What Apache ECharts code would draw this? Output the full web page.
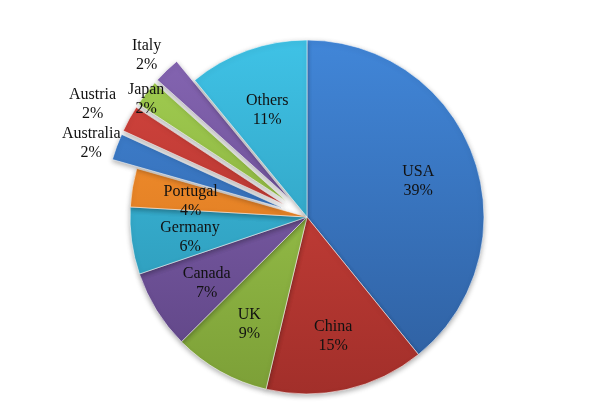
<!DOCTYPE html>
<html>
<head>
<meta charset="utf-8">
<script src="https://cdn.jsdelivr.net/npm/echarts@6/dist/echarts.min.js"></script>
<style>html,body{margin:0;padding:0;background:#fff}#c{width:600px;height:407px}</style>
</head>
<body>
<div id="c"></div>
<script>
// ---- data ----
var countries = ['USA', 'China', 'UK', 'Canada', 'Germany', 'Portugal', 'Australia', 'Austria', 'Japan', 'Italy', 'Others'];
var shares    = [39.0, 14.5, 8.8, 7.2, 6.1, 3.5, 2.4, 2.4, 2.4, 2.4, 10.9];
var exploded  = ['Australia', 'Austria', 'Japan', 'Italy'];

// ---- styling ----
var palette = {
  blue:   ['#4186d8', '#2e5e9e'],
  red:    ['#d8463f', '#a22f2a'],
  green:  ['#a5d253', '#7c9f37'],
  purple: ['#8868b6', '#5d4383'],
  cyan:   ['#3fc2e6', '#2990ad'],
  orange: ['#fb9631', '#cf6e1b']
};
var colorOrder = ['blue', 'red', 'green', 'purple', 'cyan', 'orange', 'blue', 'red', 'green', 'purple', 'cyan'];
function grad(name) {
  var c = palette[name];
  return { type: 'linear', x: 0, y: 40, x2: 0, y2: 394, global: true,
           colorStops: [{ offset: 0, color: c[0] }, { offset: 1, color: c[1] }] };
}
// outward distance of the outside labels for exploded slices (style)
var outsideLabelDist = { 'Australia': 27, 'Austria': 42, 'Japan': 0, 'Italy': 29 };

var CX = 307, CY = 217, R = 177, LABEL_R = 118;
var FONT = 'Liberation Serif, Times New Roman, serif';
var labelFont = { fontFamily: FONT, fontSize: 16, color: '#111', lineHeight: 19 };

var visualData = countries.map(function (n, i) {
  var ex = exploded.indexOf(n) >= 0;
  var item = {
    name: n, value: shares[i], selected: ex,
    itemStyle: { color: grad(colorOrder[i]) },
    label: { show: ex }
  };
  if (ex) {
    item.labelLine = { show: false, length: outsideLabelDist[n], length2: 0 };
  }
  return item;
});
var labelData = countries.map(function (n, i) {
  var ex = exploded.indexOf(n) >= 0;
  return { name: n, value: shares[i], label: { show: !ex } };
});

function fmt(p) { return p.name + '\n' + Math.round(p.percent) + '%'; }
function fmtShifted(p) { return '{g| }\n{t|' + p.name + '}\n{t|' + Math.round(p.percent) + '%}'; }
function centerOnRay(dy) {
  return function (p) {
    if (!p.labelLinePoints) return {};
    var pt = p.labelLinePoints[1];
    return { x: pt[0], y: pt[1] + dy, align: 'center', verticalAlign: 'middle', hideOverlap: false };
  };
}

var chart = echarts.init(document.getElementById('c'), null, { renderer: 'canvas' });
chart.setOption({
  animation: false,
  backgroundColor: '#ffffff',
  series: [
    {
      type: 'pie',
      center: [CX, CY],
      radius: [0, R],
      startAngle: 90,
      clockwise: true,
      selectedMode: 'multiple',
      selectedOffset: 26,
      avoidLabelOverlap: false,
      itemStyle: {
        borderColor: 'rgba(255,255,255,0.7)', borderWidth: 0.8,
        shadowBlur: 5, shadowOffsetY: 2, shadowColor: 'rgba(0,0,0,0.3)'
      },
      label: Object.assign({
        position: 'outside', formatter: fmtShifted, distanceToLabelLine: 0,
        rich: {
          g: { fontSize: 4, lineHeight: 12 },
          t: { fontFamily: FONT, fontSize: 16, color: '#111', lineHeight: 19, align: 'center' }
        }
      }, labelFont),
      labelLine: { show: false },
      labelLayout: centerOnRay(0),
      emphasis: { disabled: true },
      data: visualData
    },
    {
      type: 'pie',
      center: [CX, CY],
      radius: [0, LABEL_R],
      startAngle: 90,
      clockwise: true,
      silent: true,
      avoidLabelOverlap: false,
      itemStyle: { color: 'rgba(0,0,0,0)', borderWidth: 0 },
      label: Object.assign({ position: 'outside', formatter: fmt, distanceToLabelLine: 0 }, labelFont),
      labelLine: { show: false, length: 0, length2: 0 },
      labelLayout: centerOnRay(4),
      emphasis: { disabled: true },
      data: labelData
    }
  ]
});
</script>
</body>
</html>
